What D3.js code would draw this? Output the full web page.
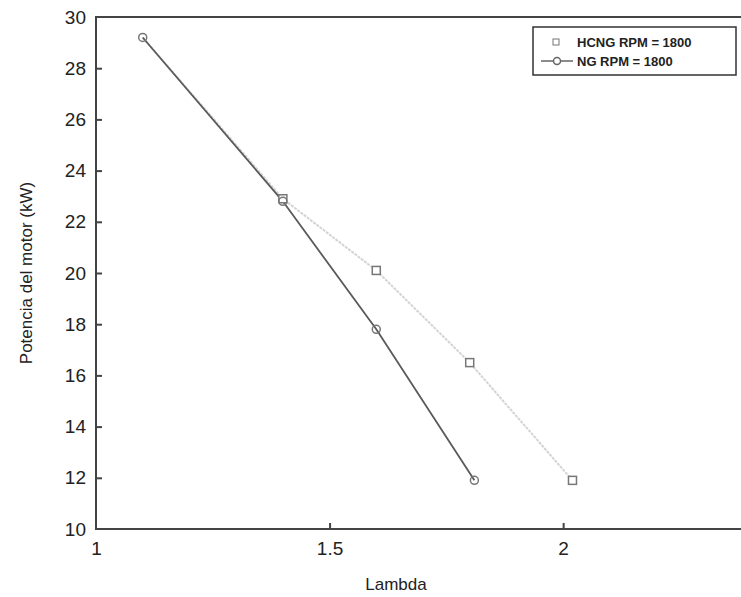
<!DOCTYPE html>
<html>
<head>
<meta charset="utf-8">
<script src="https://cdn.jsdelivr.net/npm/d3@7"></script>
<style>
  body { margin: 0; background: #fff; }
  svg { display: block; font-family: "Liberation Sans", Arial, sans-serif; }
</style>
</head>
<body>
<div id="chart"></div>
<script>
// values
const lambdaNG = [1.1, 1.4, 1.6, 1.81];
const powerNG = [29.2, 22.8, 17.8, 11.9];
const lambdaHCNG = [1.1, 1.4, 1.6, 1.8, 2.02];
const powerHCNG = [29.2, 22.9, 20.1, 16.5, 11.9];
const xTicks = [1, 1.5, 2];
const yTicks = [10, 12, 14, 16, 18, 20, 22, 24, 26, 28, 30];
const legendLabels = ["HCNG RPM = 1800", "NG RPM = 1800"];

const width = 741, height = 597;
const margin = { top: 17, right: -9, bottom: 68, left: 96 };

const svg = d3.select("#chart").append("svg")
  .attr("width", width)
  .attr("height", height);

const x = d3.scaleLinear().domain([1, 2.4]).range([margin.left, width - margin.right]);
const y = d3.scaleLinear().domain([10, 30]).range([height - margin.bottom, margin.top]);

const ng = lambdaNG.map((d, i) => ({ x: d, y: powerNG[i] }));
const hcng = lambdaHCNG.map((d, i) => ({ x: d, y: powerHCNG[i] }));

// frame
svg.append("rect")
  .attr("x", x(1)).attr("y", y(30))
  .attr("width", x(2.4) - x(1)).attr("height", y(10) - y(30))
  .attr("fill", "none").attr("stroke", "#444").attr("stroke-width", 2);

// axes, ticks pointing inside
const xAxis = svg.append("g")
  .attr("transform", `translate(0,${y(10)})`)
  .call(d3.axisBottom(x).tickValues(xTicks).tickSize(-6).tickPadding(13).tickFormat(d3.format("")));
const yAxis = svg.append("g")
  .attr("transform", `translate(${x(1)},0)`)
  .call(d3.axisLeft(y).tickValues(yTicks).tickSize(-6).tickPadding(10));

[xAxis, yAxis].forEach(g => {
  g.select(".domain").remove();
  g.selectAll(".tick line").attr("stroke", "#444").attr("stroke-width", 2);
  g.selectAll(".tick text").attr("font-size", 19).attr("fill", "#222")
    .attr("font-family", "'Liberation Sans', Arial, sans-serif");
});
xAxis.selectAll(".tick").filter(d => d === 1).select("line").remove();
yAxis.selectAll(".tick").filter(d => d === 10 || d === 30).select("line").remove();

// axis titles
svg.append("text")
  .attr("x", 396).attr("y", 590)
  .attr("text-anchor", "middle").attr("font-size", 17).attr("fill", "#222")
  .text("Lambda");
svg.append("text")
  .attr("transform", `translate(32,${(y(10) + y(30)) / 2}) rotate(-90)`)
  .attr("text-anchor", "middle").attr("font-size", 17).attr("fill", "#222")
  .text("Potencia del motor (kW)");

const line = d3.line().x(d => x(d.x)).y(d => y(d.y));

// HCNG: faint line with squares
svg.append("path")
  .datum(hcng)
  .attr("d", line)
  .attr("fill", "none")
  .attr("stroke", "#d4d4d4")
  .attr("stroke-width", 2)
  .attr("stroke-dasharray", "3,1");

// NG: solid dark line with circles
svg.append("path")
  .datum(ng)
  .attr("d", line)
  .attr("fill", "none")
  .attr("stroke", "#5a5a5a")
  .attr("stroke-width", 1.8);

// the first HCNG square is hidden under the NG circle
svg.append("g").selectAll("rect")
  .data(hcng.slice(1))
  .join("rect")
  .attr("x", d => x(d.x) - 4).attr("y", d => y(d.y) - 4)
  .attr("width", 8).attr("height", 8)
  .attr("fill", "#fff").attr("stroke", "#777").attr("stroke-width", 1.5);

svg.append("g").selectAll("circle")
  .data(ng)
  .join("circle")
  .attr("cx", d => x(d.x)).attr("cy", d => y(d.y))
  .attr("r", 4)
  .attr("fill", "none").attr("stroke", "#777").attr("stroke-width", 1.5);

// legend
const lg = svg.append("g").attr("transform", "translate(533,27)");
lg.append("rect")
  .attr("width", 203).attr("height", 48)
  .attr("fill", "#fff").attr("stroke", "#333").attr("stroke-width", 1.5);

const rows = lg.selectAll("g.row")
  .data(legendLabels)
  .join("g")
  .attr("class", "row")
  .attr("transform", (d, i) => `translate(0,${15 + i * 19})`);

rows.append("text")
  .attr("x", 44).attr("y", 5)
  .attr("font-size", 13).attr("font-weight", "bold").attr("fill", "#222")
  .text(d => d);

rows.filter((d, i) => i === 0).append("rect")
  .attr("x", 20).attr("y", -3).attr("width", 6).attr("height", 6)
  .attr("fill", "#fff").attr("stroke", "#777").attr("stroke-width", 1);

const ngRow = rows.filter((d, i) => i === 1);
ngRow.append("line")
  .attr("x1", 8).attr("x2", 40).attr("y1", 0).attr("y2", 0)
  .attr("stroke", "#666").attr("stroke-width", 1.5);
ngRow.append("circle")
  .attr("cx", 24).attr("cy", 0).attr("r", 3.5)
  .attr("fill", "#fff").attr("stroke", "#666").attr("stroke-width", 1.5);
</script>
</body>
</html>
